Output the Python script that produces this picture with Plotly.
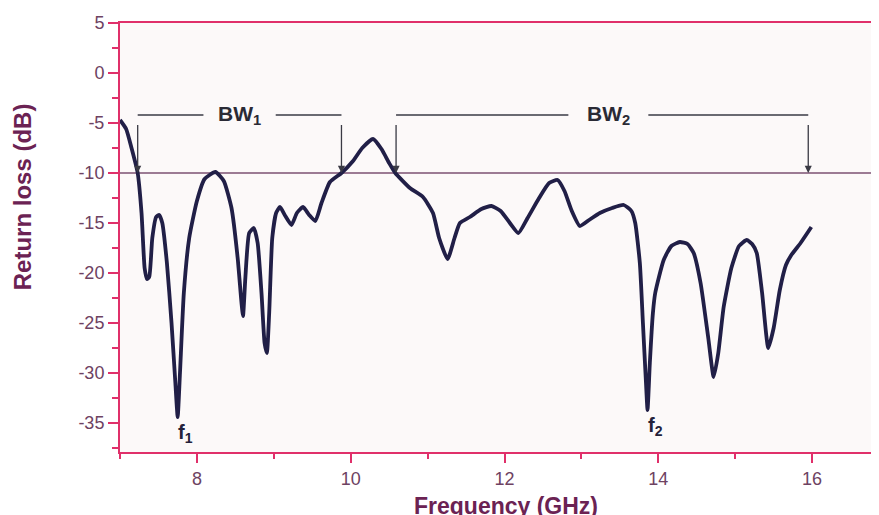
import plotly.graph_objects as go

# ---- data ----
freq = [7.00, 7.08, 7.15, 7.23, 7.28, 7.32, 7.35, 7.38, 7.42, 7.47, 7.51, 7.55, 7.61, 7.67, 7.72,
        7.75, 7.78, 7.83, 7.90, 8.00, 8.10, 8.24, 8.35, 8.45, 8.53, 8.58, 8.60, 8.63, 8.68, 8.74,
        8.79, 8.84, 8.88, 8.91, 8.94, 8.98, 9.03, 9.08, 9.15, 9.23, 9.30, 9.38, 9.46, 9.54, 9.62,
        9.73, 9.88, 10.03, 10.15, 10.29, 10.40, 10.50, 10.58, 10.77, 10.94, 11.07, 11.15, 11.26,
        11.35, 11.42, 11.55, 11.70, 11.83, 11.95, 12.07, 12.18, 12.30, 12.45, 12.58, 12.69, 12.78,
        12.87, 12.98, 13.10, 13.24, 13.40, 13.55, 13.65, 13.70, 13.76, 13.80, 13.84, 13.86, 13.89,
        13.93, 13.96, 14.07, 14.17, 14.28, 14.38, 14.46, 14.55, 14.65, 14.72, 14.78, 14.85, 14.95,
        15.05, 15.15, 15.22, 15.28, 15.35, 15.43, 15.50, 15.58, 15.66, 15.73, 15.85, 15.99]
return_loss = [-4.7, -5.6, -7.5, -10.0, -14.0, -19.5, -20.6, -20.4, -16.5, -14.4, -14.2, -15.0, -19.0,
               -25.0, -31.0, -34.4, -30.0, -22.0, -16.5, -12.8, -10.6, -9.9, -10.8, -13.5, -18.5,
               -23.0, -24.3, -20.5, -16.0, -15.5, -17.0, -22.0, -27.0, -28.0, -24.0, -16.5, -14.0,
               -13.4, -14.3, -15.2, -14.0, -13.4, -14.2, -14.8, -13.0, -10.9, -10.0, -8.8, -7.5,
               -6.6, -7.6, -9.0, -10.0, -11.5, -12.4, -14.0, -16.5, -18.6, -16.5, -15.0, -14.4,
               -13.6, -13.3, -13.8, -15.0, -16.0, -14.5, -12.5, -11.0, -10.7, -11.8, -13.7, -15.3,
               -14.7, -14.0, -13.5, -13.2, -13.8, -15.0, -19.0, -25.0, -31.0, -33.7, -29.0, -24.0,
               -22.0, -18.7, -17.3, -16.9, -17.1, -18.0, -21.0, -26.5, -30.4, -28.0, -23.4, -19.5,
               -17.3, -16.7, -17.1, -18.0, -22.0, -27.5, -25.5, -21.7, -19.2, -18.2, -17.0, -15.4]

threshold = -10
bw_labels = ["BW<sub>1</sub>", "BW<sub>2</sub>"]
bw_start = [7.23, 10.59]
bw_end = [9.88, 15.95]
res_labels = ["f<sub>1</sub>", "f<sub>2</sub>"]
res_freq = [7.75, 13.86]
res_value = [-34.4, -33.7]

x_ticks = [8, 10, 12, 14, 16]
x_ticktext = ["8", "10", "12", "14", "16"]
y_ticks = [5, 0, -5, -10, -15, -20, -25, -30, -35]
y_ticktext = ["5", "0", "-5", "-10", "-15", "-20", "-25", "-30", "-35"]

# ---- styles ----
axis_col = "#e0306a"
tick_font = dict(family="Liberation Sans, Arial, sans-serif", size=18, color="#6e4262")
title_col = "#6b2253"
curve_col = "#211f47"
bracket_col = "#3a3a44"
bracket_y = -4.2
font_fam = "Liberation Sans, Arial, sans-serif"

fig = go.Figure()
fig.add_trace(go.Scatter(x=freq, y=return_loss, mode="lines",
                         line=dict(color=curve_col, width=3.8, shape="spline", smoothing=0.5),
                         showlegend=False, hoverinfo="skip"))

# -10 dB reference line
fig.add_shape(type="line", xref="paper", x0=0, x1=1, yref="y", y0=threshold, y1=threshold,
              line=dict(color="#7d5172", width=1.5), layer="below")

# bandwidth brackets
gap_centres = [0.5, 0.515]
gap_halves = [0.47, 0.52]
for lab, s, e, gc, gh in zip(bw_labels, bw_start, bw_end, gap_centres, gap_halves):
    mid = s + gc * (e - s)
    fig.add_shape(type="line", x0=s, x1=mid - gh, y0=bracket_y, y1=bracket_y,
                  line=dict(color=bracket_col, width=1.3))
    fig.add_shape(type="line", x0=mid + gh, x1=e, y0=bracket_y, y1=bracket_y,
                  line=dict(color=bracket_col, width=1.3))
    for xv in (s, e):
        fig.add_annotation(x=xv, y=threshold, ax=xv, ay=bracket_y, xref="x", yref="y",
                           axref="x", ayref="y", text=" ", showarrow=True, arrowhead=2,
                           arrowsize=1.1, arrowwidth=1.3, arrowcolor=bracket_col)
    fig.add_annotation(x=mid, y=bracket_y, text=lab, showarrow=False,
                       font=dict(family=font_fam, size=21, color="#2a2a35", weight="bold"))

# resonance labels
for lab, fx, fy in zip(res_labels, res_freq, res_value):
    fig.add_annotation(x=fx + 0.1, y=fy, text=lab, showarrow=False, yanchor="top", yshift=-2,
                       font=dict(family=font_fam, size=20, color="#24223a", weight="bold"))

# axis titles as annotations
fig.add_annotation(xref="paper", yref="paper", x=-0.129, y=0.594, text="Return loss (dB)",
                   textangle=-90, showarrow=False, xanchor="center", yanchor="middle",
                   font=dict(family=font_fam, size=24, color=title_col, weight="bold"))
fig.add_annotation(xref="paper", yref="paper", x=0.508, y=-0.125, text="Frequency (GHz)",
                   showarrow=False, xanchor="center", yanchor="middle",
                   font=dict(family=font_fam, size=23, color=title_col, weight="bold"))

# the page body adds an 8px offset; the plot area is made to reach the window's right edge
fig.update_layout(
    width=879, height=507,
    margin=dict(l=112, r=8, t=15, b=63, autoexpand=False),
    paper_bgcolor="#ffffff", plot_bgcolor="#fcf9f9",
    xaxis=dict(range=[7, 16.87], tickvals=x_ticks, ticktext=x_ticktext, showgrid=False,
               zeroline=False, showline=True, linecolor=axis_col, linewidth=2, mirror=True,
               ticks="outside", ticklen=9, tickwidth=2, tickcolor=axis_col,
               minor=dict(dtick=1, tick0=7, ticks="outside", ticklen=5, tickwidth=2,
                          tickcolor=axis_col, showgrid=False),
               tickfont=tick_font, automargin=False),
    yaxis=dict(range=[-37.9, 5], tickvals=y_ticks, ticktext=y_ticktext, showgrid=False,
               zeroline=False, showline=True, linecolor=axis_col, linewidth=2, mirror=False,
               ticks="outside", ticklen=10, tickwidth=2, tickcolor=axis_col,
               minor=dict(dtick=2.5, tick0=0, ticks="outside", ticklen=6, tickwidth=2,
                          tickcolor=axis_col, showgrid=False),
               tickfont=tick_font, automargin=False),
)

fig.write_html("out.html")
